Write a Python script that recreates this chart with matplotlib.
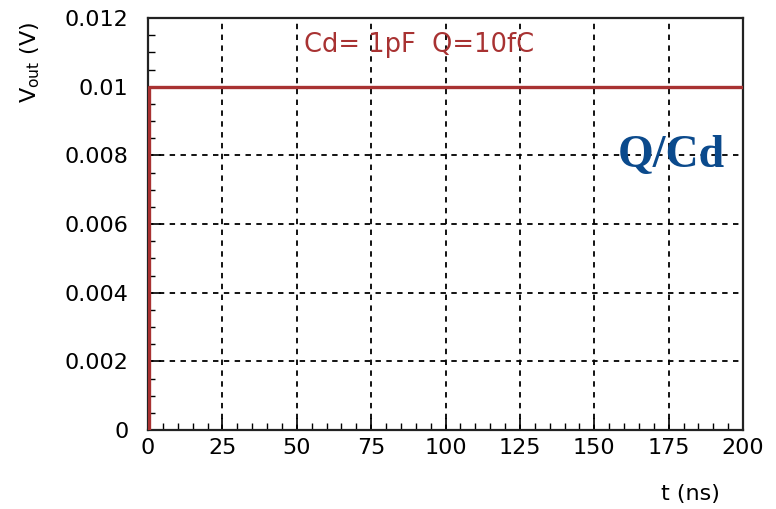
import matplotlib
matplotlib.use("Agg")
import matplotlib.pyplot as plt
from matplotlib.ticker import MultipleLocator

# data
t_ns = [0.0, 0.3, 200.0]
v_out = [0.0, 0.01, 0.01]
x_ticks = [0, 25, 50, 75, 100, 125, 150, 175, 200]
y_ticks = [0, 0.002, 0.004, 0.006, 0.008, 0.01, 0.012]
y_labels = ["0", "0.002", "0.004", "0.006", "0.008", "0.01", "0.012"]

plt.rcParams['font.family'] = ['DejaVu Sans']

fig = plt.figure(figsize=(7.76, 5.09), dpi=100)
ax = fig.add_axes([148/776, 1-430/509, (743-148)/776, (430-18)/509])

ax.plot(t_ns, v_out, drawstyle='steps-post', color='#a83232', lw=2.4, zorder=3)

ax.set_xlim(0, 200)
ax.set_ylim(0, 0.012)
ax.set_xticks(x_ticks)
ax.set_yticks(y_ticks)
ax.set_yticklabels(y_labels)
ax.xaxis.set_minor_locator(MultipleLocator(5))
ax.yaxis.set_minor_locator(MultipleLocator(0.0005))
ax.tick_params(which='both', direction='in', top=False, right=False, labelsize=16, colors='black')
ax.tick_params(which='major', length=9, width=1.2)
ax.tick_params(which='minor', length=5, width=1.0)
ax.tick_params(axis='x', pad=6)
ax.tick_params(axis='y', pad=14)

ax.grid(True, which='major', color='black', linestyle=(0, (3, 3)), lw=1.3)
for s in ax.spines.values():
    s.set_linewidth(1.6)
    s.set_color('#222222')

ax.text(0.455, 0.935, "Cd= 1pF  Q=10fC", transform=ax.transAxes, ha='center', va='center',
        color='#a83232', fontsize=18.5)
ax.text(0.97, 0.665, "Q/Cd", transform=ax.transAxes, ha='right', va='center',
        color='#0b4a8c', fontsize=33, fontweight='bold', family=['Liberation Serif', 'DejaVu Serif'])

fig.text(30/776, 1-62/509, r"V$_{\mathregular{out}}$ (V)", rotation=90, ha='center', va='center', fontsize=16)
fig.text(690/776, 1-494/509, "t (ns)", ha='center', va='center', fontsize=16)

fig.savefig("out.png", dpi=100, facecolor='white')
